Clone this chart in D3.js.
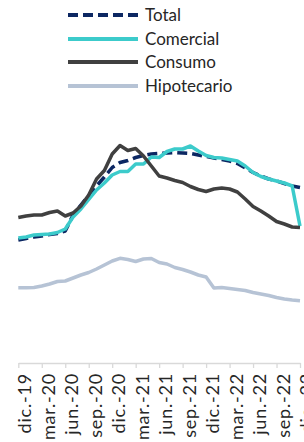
<!DOCTYPE html>
<html><head><meta charset="utf-8">
<script src="https://cdn.jsdelivr.net/npm/d3@7"></script>
<style>html,body{margin:0;padding:0;background:#fff;}svg{display:block;}</style>
</head><body><div id="chart"></div>
<script>
const months = ["dic.-19","ene.-20","feb.-20","mar.-20","abr.-20","may.-20","jun.-20","jul.-20","ago.-20","sep.-20","oct.-20","nov.-20",
"dic.-20","ene.-21","feb.-21","mar.-21","abr.-21","may.-21","jun.-21","jul.-21","ago.-21","sep.-21","oct.-21","nov.-21",
"dic.-21","ene.-22","feb.-22","mar.-22","abr.-22","may.-22","jun.-22","jul.-22","ago.-22","sep.-22","oct.-22","nov.-22","dic.-22"];
const tickLabels = ["dic.-19","mar.-20","jun.-20","sep.-20","dic.-20","mar.-21","jun.-21","sep.-21","dic.-21","mar.-22","jun.-22","sep.-22","dic.-22"];
const seriesNames = ["Total","Comercial","Consumo","Hipotecario"];
const total = [1.22,1.235,1.25,1.26,1.275,1.285,1.31,1.47,1.57,1.665,1.76,1.85,1.945,1.995,2.015,2.045,2.065,2.08,2.085,2.09,2.095,2.09,2.085,2.07,2.055,2.04,2.025,2.01,1.985,1.94,1.895,1.86,1.83,1.81,1.785,1.76,1.745];
const comercial = [1.24,1.25,1.27,1.275,1.28,1.295,1.33,1.45,1.53,1.625,1.72,1.79,1.87,1.905,1.905,1.98,1.98,2.05,2.045,2.105,2.13,2.13,2.16,2.11,2.065,2.045,2.04,2.025,2.01,1.96,1.895,1.855,1.83,1.81,1.79,1.76,1.36];
const consumo = [1.445,1.46,1.47,1.47,1.495,1.51,1.46,1.49,1.56,1.67,1.83,1.915,2.08,2.165,2.115,2.135,2.06,1.96,1.86,1.84,1.815,1.795,1.755,1.725,1.705,1.73,1.74,1.73,1.70,1.63,1.555,1.51,1.46,1.405,1.38,1.35,1.345];
const hipotecario = [0.743,0.743,0.745,0.76,0.78,0.805,0.81,0.84,0.87,0.895,0.93,0.97,1.01,1.037,1.025,1.005,1.03,1.035,0.995,0.98,0.945,0.925,0.90,0.87,0.85,0.74,0.745,0.735,0.725,0.715,0.695,0.68,0.665,0.645,0.63,0.62,0.613];

const W = 304, H = 442;
const FONT = "Lato, 'DejaVu Sans', sans-serif";
const svg = d3.select("#chart").append("svg").attr("width", W).attr("height", H).style("background","#fff");

const x = d3.scalePoint().domain(months).range([18.3, 300]);
const y = d3.scaleLinear().domain([0, 2.5]).range([362, 112]);

const styles = {
  "Total": {color:"#0c2762", dash:"10,5"},
  "Comercial": {color:"#3ccbcb", dash:null},
  "Consumo": {color:"#404040", dash:null},
  "Hipotecario": {color:"#b6c3d5", dash:null}
};
const dataBy = {"Total": total, "Comercial": comercial, "Consumo": consumo, "Hipotecario": hipotecario};

// axis
const axis = d3.axisBottom(x).tickValues(tickLabels).tickSize(5).tickSizeOuter(0);
const gx = svg.append("g").attr("transform", "translate(0,363)").call(axis);
gx.select(".domain").attr("stroke", "#d9d9d9").attr("stroke-width", 1.3);
gx.selectAll(".tick line").attr("stroke", "#d9d9d9").attr("stroke-width", 1.3);
gx.selectAll(".tick text")
  .attr("font-family", FONT).attr("font-size", 18).attr("fill", "#262626")
  .attr("letter-spacing", "0.8px")
  .attr("text-anchor", "end")
  .attr("transform", "translate(0,10) rotate(-90)")
  .attr("x", 0).attr("y", 0).attr("dy", "0.7em").attr("dx", 0);

// lines (Excel order: later on top)
const line = d3.line().x((d, i) => x(months[i])).y(d => y(d));
["Hipotecario","Total","Comercial","Consumo"].forEach(name => {
  const s = styles[name];
  svg.append("path").datum(dataBy[name])
    .attr("fill", "none").attr("stroke", s.color).attr("stroke-width", 3.5)
    .attr("stroke-linejoin", "round")
    .attr("stroke-dasharray", s.dash)
    .attr("d", line);
});

// legend
const lg = svg.append("g");
const legendY = [15, 39, 62, 86];
seriesNames.forEach((name, i) => {
  const s = styles[name];
  lg.append("line").attr("x1", 68).attr("x2", 138).attr("y1", legendY[i]).attr("y2", legendY[i])
    .attr("stroke", s.color).attr("stroke-width", 4).attr("stroke-dasharray", s.dash);
  lg.append("text").attr("x", 145).attr("y", legendY[i] + 6.3)
    .attr("font-family", FONT).attr("font-size", 17).attr("fill", "#262626").text(name);
});
</script></body></html>
